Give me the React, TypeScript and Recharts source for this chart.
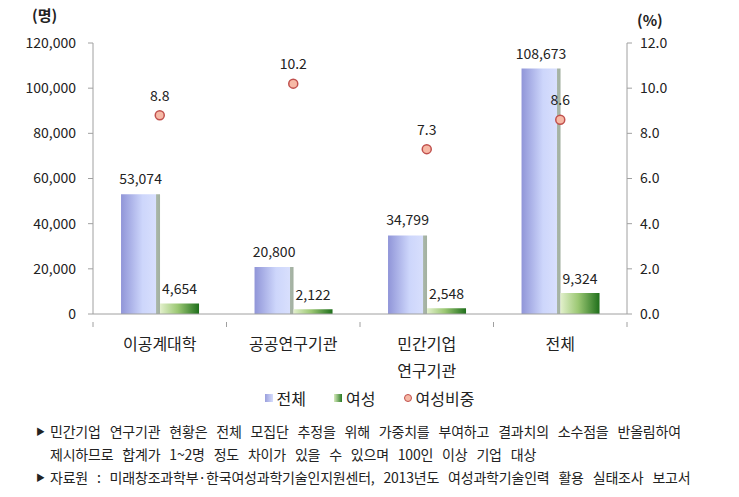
import React from 'react'
import { ComposedChart, Bar, Scatter, XAxis, YAxis, Legend, LabelList } from 'recharts'

const categories = ['이공계대학', '공공연구기관', '민간기업\n연구기관', '전체']
const totalValues = [53074, 20800, 34799, 108673]
const femaleValues = [4654, 2122, 2548, 9324]
const femaleRatio = [8.8, 10.2, 7.3, 8.6]
const leftTicks = [0, 20000, 40000, 60000, 80000, 100000, 120000]
const rightTicks = [0, 2, 4, 6, 8, 10, 12]
const notes = [
  '민간기업 연구기관 현황은 전체 모집단 추정을 위해 가중치를 부여하고 결과치의 소수점을 반올림하여',
  '제시하므로 합계가 1~2명 정도 차이가 있을 수 있으며 100인 이상 기업 대상',
  '자료원 : 미래창조과학부·한국여성과학기술인지원센터, 2013년도 여성과학기술인력 활용 실태조사 보고서',
]

const data = categories.map((name, i) => ({
  name,
  total: totalValues[i],
  female: femaleValues[i],
  ratio: femaleRatio[i],
}))

const FONT = '"Noto Sans CJK KR", "Noto Sans", sans-serif'
const W = 739
const H = 410
const LEFT_W = 93
const RIGHT_W = 112
const BAND = (W - LEFT_W - RIGHT_W) / categories.length

function CategoryTick(props: any) {
  const { x, y, payload, index } = props
  const lines = String(payload.value).split('\n')
  return (
    <g>
      <line x1={x - BAND / 2} x2={x - BAND / 2} y1={y} y2={y + 5} stroke="#a0a0a0" />
      {index === categories.length - 1 && (
        <line x1={x + BAND / 2} x2={x + BAND / 2} y1={y} y2={y + 5} stroke="#a0a0a0" />
      )}
      {lines.map((l, i) => (
        <text key={i} x={x} y={y + 28 + i * 27} textAnchor="middle" fontSize={16} fill="#222" fontFamily={FONT}>
          {l}
        </text>
      ))}
    </g>
  )
}

function RatioDot(props: any) {
  const { cx, cy } = props
  return <circle cx={cx} cy={cy} r={4.5} fill="#f7b9a6" stroke="#c0504d" strokeWidth={1.5} />
}

function LegendContent() {
  const item = (swatch: React.ReactNode, label: string) => (
    <span style={{ display: 'inline-flex', alignItems: 'center', margin: '0 14px' }}>
      {swatch}
      <span style={{ marginLeft: 4 }}>{label}</span>
    </span>
  )
  return (
    <div style={{ height: 24, display: 'flex', justifyContent: 'center', alignItems: 'center', fontFamily: FONT, fontSize: 16, color: '#222' }}>
      {item(<span style={{ width: 8, height: 8, background: 'linear-gradient(90deg,#9a9fdc,#d6ddfd)' }} />, '전체')}
      {item(<span style={{ width: 8, height: 8, background: 'linear-gradient(90deg,#d7ebbd,#2a7a22)' }} />, '여성')}
      {item(<span style={{ width: 6, height: 6, borderRadius: 4, border: '1.5px solid #c0504d', background: '#f7b9a6' }} />, '여성비중')}
    </div>
  )
}

export default function App() {
  return (
    <div style={{ position: 'absolute', left: 0, top: 0, width: W, height: 497, background: '#fff', fontFamily: FONT }}>
      <div style={{ position: 'absolute', left: 32, top: 4, fontSize: 15, fontWeight: 'bold', color: '#222' }}>(명)</div>
      <div style={{ position: 'absolute', left: 637, top: 9, fontSize: 15, fontWeight: 'bold', color: '#222' }}>(%)</div>
      <ComposedChart
        width={W}
        height={H}
        data={data}
        margin={{ top: 43, right: 0, bottom: 0, left: 0 }}
        barCategoryGap="21%"
        barGap={0}
      >
        <defs>
          <linearGradient id="gTotal" x1="0" y1="0" x2="1" y2="0">
            <stop offset="0%" stopColor="#9095d8" />
            <stop offset="55%" stopColor="#cdd6fb" />
            <stop offset="90%" stopColor="#d8dffd" />
            <stop offset="91%" stopColor="#a9b6a8" />
            <stop offset="100%" stopColor="#a2b0a0" />
          </linearGradient>
          <linearGradient id="gFemale" x1="0" y1="0" x2="1" y2="0">
            <stop offset="0%" stopColor="#e2f0cb" />
            <stop offset="45%" stopColor="#9cc874" />
            <stop offset="100%" stopColor="#1f6f1b" />
          </linearGradient>
        </defs>
        <XAxis
          dataKey="name"
          height={72}
          interval={0}
          tick={<CategoryTick />}
          tickLine={false}
          axisLine={{ stroke: '#a0a0a0' }}
        />
        <YAxis
          yAxisId="left"
          width={LEFT_W}
          domain={[0, 120000]}
          ticks={leftTicks}
          tickFormatter={(v: number) => v.toLocaleString('en-US')}
          tick={{ fontSize: 14, fill: '#222', fontFamily: FONT }}
          tickSize={5}
          tickMargin={12}
          axisLine={{ stroke: '#a0a0a0' }}
          tickLine={{ stroke: '#a0a0a0' }}
        />
        <YAxis
          yAxisId="right"
          orientation="right"
          width={RIGHT_W}
          domain={[0, 12]}
          ticks={rightTicks}
          tickFormatter={(v: number) => v.toFixed(1)}
          tick={{ fontSize: 14, fill: '#222', fontFamily: FONT, textAnchor: 'start' }}
          tickSize={5}
          tickMargin={8}
          axisLine={{ stroke: '#a0a0a0' }}
          tickLine={{ stroke: '#a0a0a0' }}
        />
        <Legend verticalAlign="bottom" content={<LegendContent />} />
        <Bar yAxisId="left" dataKey="total" name="전체" fill="url(#gTotal)" isAnimationActive={false}>
          <LabelList
            dataKey="total"
            position="top"
            offset={10}
            formatter={(v: any) => Number(v).toLocaleString('en-US')}
            style={{ fontSize: 14, fill: '#222', fontFamily: FONT }}
          />
        </Bar>
        <Bar yAxisId="left" dataKey="female" name="여성" fill="url(#gFemale)" isAnimationActive={false}>
          <LabelList
            dataKey="female"
            position="top"
            offset={9}
            formatter={(v: any) => Number(v).toLocaleString('en-US')}
            style={{ fontSize: 14, fill: '#222', fontFamily: FONT }}
          />
        </Bar>
        <Scatter yAxisId="right" dataKey="ratio" name="여성비중" shape={<RatioDot />} isAnimationActive={false}>
          <LabelList
            dataKey="ratio"
            position="top"
            offset={10}
            formatter={(v: any) => Number(v).toFixed(1)}
            style={{ fontSize: 14, fill: '#222', fontFamily: FONT }}
          />
        </Scatter>
      </ComposedChart>
      <div style={{ position: 'absolute', left: 36, top: 420, fontSize: 14, color: '#222', lineHeight: '23px', whiteSpace: 'nowrap' }}>
        {notes.map((n, i) => (
          <div key={i} style={{ display: 'flex' }}>
            <span style={{ width: 14, fontSize: 9, visibility: i === 1 ? 'hidden' : 'visible' }}>▶</span>
            <span style={{ letterSpacing: -0.2, wordSpacing: 6 }}>{n}</span>
          </div>
        ))}
      </div>
    </div>
  )
}
